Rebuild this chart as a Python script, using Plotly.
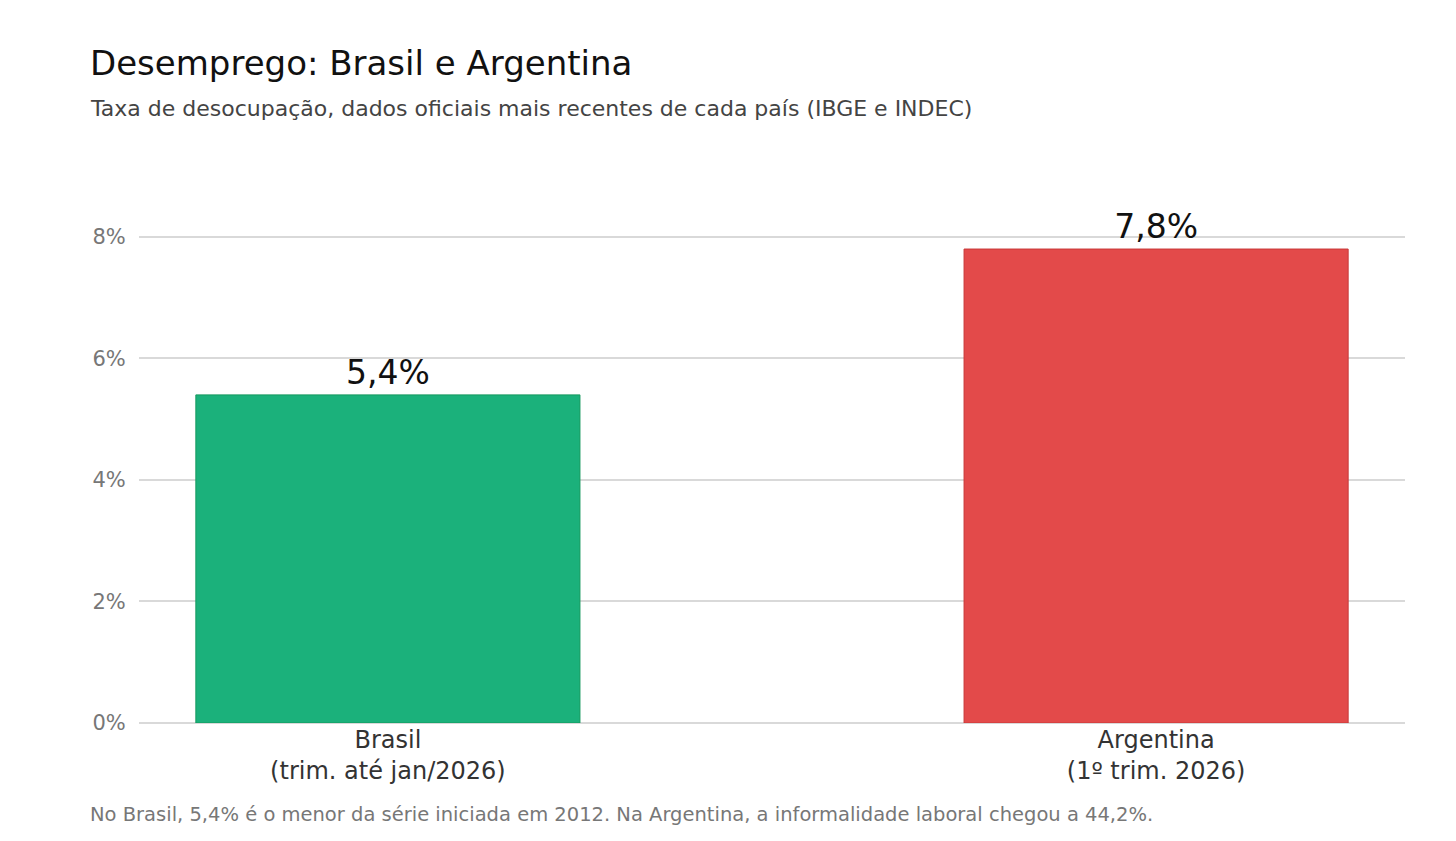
import plotly.graph_objects as go

categories = ["Brasil<br>(trim. até jan/2026)", "Argentina<br>(1º trim. 2026)"]
values = [5.4, 7.8]
labels = ["5,4%", "7,8%"]
colors = ["#1bb17b", "#e34a4a"]
line_colors = ["#15995f", "#c83838"]
tick_vals = [0, 2, 4, 6, 8]
tick_text = ["0%", "2%", "4%", "6%", "8%"]

fig = go.Figure(go.Bar(
    x=[0, 1], y=values, text=labels, textposition="outside",
    textfont=dict(size=33, color="#111"),
    marker=dict(color=colors, line=dict(color=line_colors, width=1)),
    cliponaxis=False, width=0.5,
))

plot_h = 715 - 142
fig.update_layout(
    width=1456, height=841,
    font=dict(family="DejaVu Sans"),
    paper_bgcolor="white", plot_bgcolor="white",
    margin=dict(l=131, r=59, t=142, b=126),
    showlegend=False,
    xaxis=dict(range=[-0.324, 1.324], tickvals=[0, 1], ticktext=categories,
               tickfont=dict(size=24, color="#333"), showline=False, ticks="",
               showgrid=False, zeroline=False),
    yaxis=dict(range=[0, 9.43], tickvals=tick_vals, ticktext=tick_text,
               tickfont=dict(size=21, color="#777"), gridcolor="#d9d9d9",
               gridwidth=1.5, zeroline=True, zerolinecolor="#d9d9d9", zerolinewidth=1.5,
               ticks="outside", ticklen=8, tickcolor="white"),
    annotations=[
        dict(text="Desemprego: Brasil e Argentina", xref="paper", yref="paper",
             x=(80 - 131) / 1266, y=(715 - 55) / plot_h, xanchor="left", yanchor="middle",
             showarrow=False, font=dict(size=34, color="#111")),
        dict(text="Taxa de desocupação, dados oficiais mais recentes de cada país (IBGE e INDEC)",
             xref="paper", yref="paper", x=(80 - 131) / 1266, y=(715 - 100) / plot_h,
             xanchor="left", yanchor="middle", showarrow=False,
             font=dict(size=22, color="#444")),
        dict(text="No Brasil, 5,4% é o menor da série iniciada em 2012. Na Argentina, a informalidade laboral chegou a 44,2%.",
             xref="paper", yref="paper", x=(80 - 131) / 1266, y=-(806 - 715) / plot_h,
             xanchor="left", yanchor="middle", showarrow=False,
             font=dict(size=19.5, color="#777")),
    ],
)

fig.write_html("out.html")
